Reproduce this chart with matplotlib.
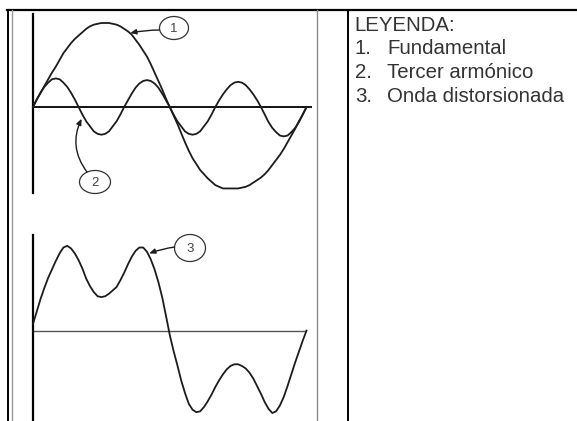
import matplotlib
matplotlib.use("Agg")
import matplotlib.pyplot as plt
from matplotlib.patches import Ellipse

# --- data (angle in degrees, amplitude relative to the fundamental) ---
angle = list(range(0, 361, 5))
fundamental = [0.00, 0.09, 0.17, 0.25, 0.33, 0.41, 0.48, 0.56, 0.64, 0.70,
               0.76, 0.81, 0.85, 0.89, 0.93, 0.96, 0.98, 0.99, 1.00,
               1.00, 1.00, 0.99, 0.98, 0.96, 0.93, 0.90, 0.86, 0.80, 0.74,
               0.67, 0.60, 0.51, 0.41, 0.31, 0.21, 0.10, 0.00,
               -0.10, -0.20, -0.31, -0.42, -0.52, -0.61, -0.68, -0.75, -0.80,
               -0.85, -0.89, -0.93, -0.95, -0.97, -0.97, -0.97, -0.97, -0.97,
               -0.96, -0.95, -0.93, -0.90, -0.87, -0.84, -0.80, -0.75, -0.69,
               -0.63, -0.57, -0.50, -0.42, -0.34, -0.26, -0.17, -0.09, 0.00]
third_harmonic = [0.00, 0.09, 0.17, 0.24, 0.29, 0.33, 0.34, 0.33, 0.29, 0.24, 0.17, 0.09, 0.00,
                  -0.09, -0.17, -0.23, -0.29, -0.32, -0.33, -0.32, -0.29, -0.23, -0.17, -0.09, 0.00,
                  0.08, 0.16, 0.23, 0.28, 0.31, 0.32, 0.31, 0.28, 0.23, 0.16, 0.08, 0.00,
                  -0.09, -0.17, -0.23, -0.29, -0.32, -0.33, -0.32, -0.29, -0.23, -0.17, -0.09, 0.00,
                  0.08, 0.15, 0.21, 0.26, 0.29, 0.30, 0.29, 0.26, 0.21, 0.15, 0.08, 0.00,
                  -0.09, -0.18, -0.25, -0.30, -0.34, -0.35, -0.34, -0.30, -0.25, -0.18, -0.09, 0.00]
distorted = [0.08, 0.23, 0.38, 0.51, 0.63, 0.73, 0.83, 0.92, 0.99, 1.01,
             0.98, 0.92, 0.84, 0.74, 0.62, 0.53, 0.46, 0.41, 0.40,
             0.41, 0.44, 0.48, 0.52, 0.60, 0.69, 0.79, 0.88, 0.95, 0.99,
             0.99, 0.94, 0.85, 0.73, 0.58, 0.40, 0.18, -0.05,
             -0.24, -0.41, -0.59, -0.74, -0.87, -0.94, -0.97, -0.96, -0.91,
             -0.84, -0.76, -0.67, -0.59, -0.52, -0.46, -0.42, -0.40, -0.40,
             -0.42, -0.45, -0.50, -0.57, -0.66, -0.75, -0.85, -0.93, -0.98,
             -0.96, -0.89, -0.79, -0.66, -0.52, -0.38, -0.25, -0.12, 0.00]

legend_title = "LEYENDA:"
legend_items = ["Fundamental", "Tercer armónico", "Onda distorsionada"]

W, H = 577, 421
INK = "#1c1c1c"
plt.rcParams["font.family"] = ["Liberation Sans", "DejaVu Sans"]


def px_box(x0, y0, x1, y1):
    # pixel box (top-left origin) -> figure fraction rect
    return [x0 / W, 1 - y1 / H, (x1 - x0) / W, (y1 - y0) / H]


def wave_axes(fig, rect, xlim, ylim, axis_lw, axis_color):
    ax = fig.add_axes(rect)
    ax.set_xlim(*xlim)
    ax.set_ylim(*ylim)
    ax.patch.set_visible(False)
    for s in ("top", "right", "bottom"):
        ax.spines[s].set_visible(False)
    ax.spines["left"].set_linewidth(1.6)
    ax.spines["left"].set_color("black")
    ax.set_xticks([])
    ax.set_yticks([])
    ax.axhline(0, color=axis_color, lw=axis_lw, zorder=1)
    return ax


fig = plt.figure(figsize=(W / 100, H / 100), dpi=100)
fig.patch.set_facecolor("white")

# upper panel: fundamental + third harmonic
ax_top = wave_axes(fig, px_box(33, 14, 312, 193), (0, 367.2), (-1.024, 1.107), 1.3, "black")
ax_top.plot(angle, fundamental, color=INK, lw=1.3, clip_on=False, zorder=3)
ax_top.plot(angle, third_harmonic, color=INK, lw=1.3, clip_on=False, zorder=3)

# lower panel: distorted wave
ax_bot = wave_axes(fig, px_box(33, 235, 306.5, 421), (0, 360), (-1.075, 1.139), 1.0, "#555555")
ax_bot.plot(angle, distorted, color=INK, lw=1.3, clip_on=False, zorder=3)

# overlay in pixel coordinates for frame, callouts and legend
ov = fig.add_axes([0, 0, 1, 1])
ov.set_xlim(0, W)
ov.set_ylim(H, 0)
ov.axis("off")

ov.plot([7, W], [10, 10], color="black", lw=1.6)
for x, c, lw in [(8, "black", 1.4), (12, "#9a9a9a", 1.0), (317, "#8a8a8a", 1.0), (348, "black", 1.4)]:
    ov.plot([x, x], [10, H], color=c, lw=lw)

callouts = [
    ("1", (174, 28), 29, 23, (159.5, 30), ax_top, (128, 0.88), 0.05),
    ("2", (95, 182), 31, 23, (87, 172), ax_top, (64, -0.14), -0.3),
    ("3", (190, 248), 31, 27, (174.5, 247), ax_bot, (153, 0.92), 0.05),
]
for label, center, ew, eh, start, tax, tip, rad in callouts:
    ov.add_patch(Ellipse(center, ew, eh, facecolor="white", edgecolor="#333333", lw=0.9))
    ov.text(center[0], center[1] + 0.5, label, ha="center", va="center", fontsize=9.5, color="#444444")
    ov.annotate("", xy=tip, xycoords=tax.transData, xytext=start, textcoords="data",
                arrowprops=dict(arrowstyle="-|>,head_length=0.35,head_width=0.15", lw=1.0,
                                color=INK, shrinkA=0, shrinkB=0,
                                connectionstyle=f"arc3,rad={rad}"))

TXT = "#333333"
ov.text(354, 31, legend_title, fontsize=14.7, color=TXT, va="baseline", ha="left")
for i, item in enumerate(legend_items):
    yb = 54.5 + i * 23.5
    ov.text(355, yb, f"{i + 1}.", fontsize=14.7, color=TXT, va="baseline", ha="left")
    ov.text(387, yb, item, fontsize=14.7, color=TXT, va="baseline", ha="left")

fig.savefig("out.png", dpi=100)
